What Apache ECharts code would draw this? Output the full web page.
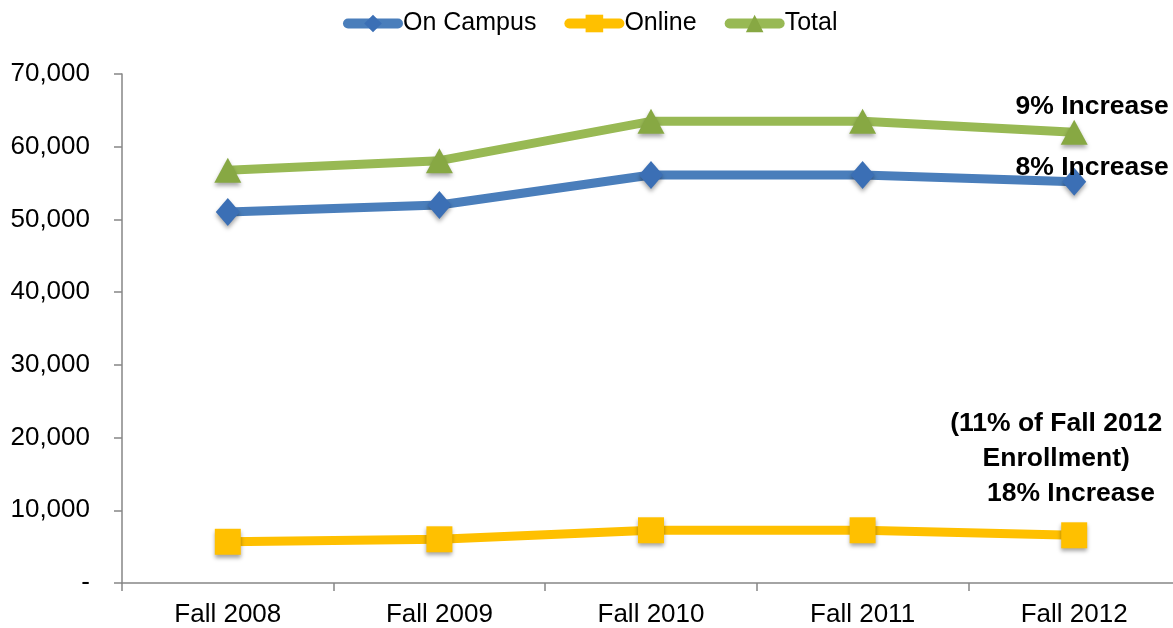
<!DOCTYPE html>
<html>
<head>
<meta charset="utf-8">
<script src="https://cdn.jsdelivr.net/npm/echarts@6/dist/echarts.min.js"></script>
<style>
  html, body { margin: 0; padding: 0; background: #fff; }
  #chart { width: 1173px; height: 628px; }
</style>
</head>
<body>
<div id="chart"></div>
<script>
// categories and values
const terms = ['Fall 2008', 'Fall 2009', 'Fall 2010', 'Fall 2011', 'Fall 2012']
const onCampus = [51010, 51980, 56110, 56110, 55180]
const online = [5670, 6010, 7250, 7250, 6560]
const total = [56770, 58080, 63490, 63490, 62000]

// notes shown next to the last point of each series
const campusNote = '8% Increase'
const onlineNote = '(11% of Fall 2012\nEnrollment)\n    18% Increase'
const totalNote = '9% Increase'

const font = 'Arial, "Liberation Sans", sans-serif'

const colors = {
  campus: '#4a7ebb',
  campusMark: '#3b6fb5',
  online: '#ffc000',
  total: '#98b954',
  totalMark: '#87a843',
}

const markShadow = {
  shadowBlur: 4,
  shadowColor: 'rgba(0, 0, 0, 0.35)',
  shadowOffsetY: 3,
}

// put a note on the last point only
function withNote(values, note, offset) {
  return values.map((v, i) => {
    if (i !== values.length - 1)
      return v
    return {
      value: v,
      label: {
        show: true,
        position: 'inside',
        offset,
        formatter: note,
        fontFamily: font,
        fontSize: 26.5,
        fontWeight: 'bold',
        color: '#000',
        align: 'center',
        lineHeight: 35,
      },
    }
  })
}

const chart = echarts.init(document.getElementById('chart'))

chart.setOption({
  animation: false,
  textStyle: { fontFamily: font },
  legend: {
    top: 6,
    left: 338,
    itemWidth: 50,
    itemHeight: 22,
    itemGap: 28,
    lineStyle: { width: 10, cap: 'round' },
    textStyle: { fontFamily: font, fontSize: 25, color: '#000' },
    data: ['On Campus', 'Online', 'Total'],
  },
  grid: {
    left: 122,
    top: 74,
    width: 1058,
    height: 509,
    outerBoundsMode: 'none',
  },
  xAxis: {
    type: 'category',
    data: terms,
    boundaryGap: true,
    axisLine: { lineStyle: { color: '#868686', width: 1.5 } },
    axisTick: { show: true, length: 8, lineStyle: { color: '#868686', width: 1.5 } },
    axisLabel: { fontSize: 26, color: '#000', margin: 19 },
  },
  yAxis: {
    type: 'value',
    min: 0,
    max: 70000,
    interval: 10000,
    splitLine: { show: false },
    axisLine: { show: true, lineStyle: { color: '#868686', width: 1.5 } },
    axisTick: { show: true, length: 8, lineStyle: { color: '#868686', width: 1.5 } },
    axisLabel: {
      fontSize: 26,
      color: '#000',
      margin: 32,
      formatter: v => (v === 0 ? '-' : v.toLocaleString('en-US')),
    },
  },
  series: [
    {
      name: 'On Campus',
      type: 'line',
      data: withNote(onCampus, campusNote, [18, -14]),
      symbol: 'diamond',
      symbolSize: [24, 28],
      lineStyle: { color: colors.campus, width: 9 },
      itemStyle: { color: colors.campusMark, ...markShadow },
      z: 3,
    },
    {
      name: 'Online',
      type: 'line',
      data: withNote(online, onlineNote, [-18, -77]),
      symbol: 'rect',
      symbolSize: 26,
      lineStyle: { color: colors.online, width: 9 },
      itemStyle: { color: colors.online, ...markShadow },
      z: 3,
    },
    {
      name: 'Total',
      type: 'line',
      data: withNote(total, totalNote, [18, -25]),
      symbol: 'triangle',
      symbolSize: [27, 25],
      lineStyle: { color: colors.total, width: 9 },
      itemStyle: { color: colors.totalMark, ...markShadow },
      z: 3,
    },
  ],
})

window.addEventListener('resize', () => chart.resize())
</script>
</body>
</html>
